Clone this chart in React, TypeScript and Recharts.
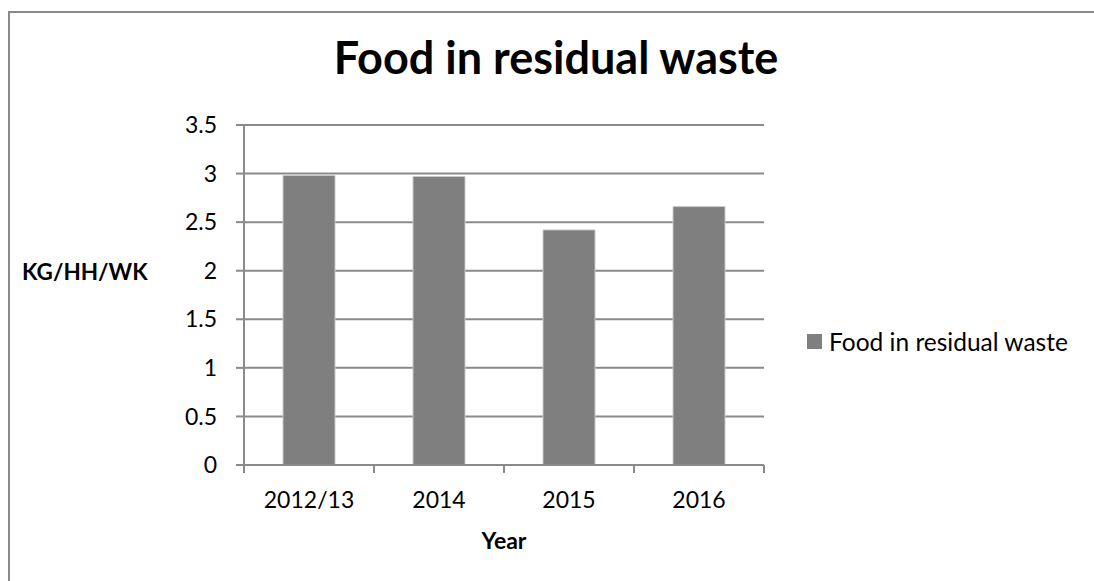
import React from 'react';
import {
  BarChart, Bar, XAxis, YAxis, CartesianGrid, Legend
} from 'recharts';

const years = ['2012/13', '2014', '2015', '2016'];
const foodKg = [2.98, 2.97, 2.42, 2.66];
const yTicks = [0, 0.5, 1, 1.5, 2, 2.5, 3, 3.5];
const seriesName = 'Food in residual waste';

const chartData = years.map((year, i) => ({ year, food: foodKg[i] }));

const FONT = 'Lato, "Open Sans", sans-serif';
const AXIS_GRAY = '#8a8a8a';
const BAR_GRAY = '#7f7f7f';

// Excel-style category axis: tick marks sit on the category boundaries
const YearTick = (props: any) => {
  const { x, y, payload, index } = props;
  const half = payload && payload.offset ? payload.offset : 65;
  const isLast = index === years.length - 1;
  return (
    <g>
      <line x1={x - half} y1={y} x2={x - half} y2={y + 8} stroke={AXIS_GRAY} strokeWidth={2} />
      {isLast && (
        <line x1={x + half} y1={y} x2={x + half} y2={y + 8} stroke={AXIS_GRAY} strokeWidth={2} />
      )}
      <text x={x} y={y + 43} textAnchor="middle" fill="#000" fontSize={23} fontFamily={FONT}>
        {payload.value}
      </text>
    </g>
  );
};

const LegendBox = () => (
  <div style={{ display: 'flex', alignItems: 'center', fontFamily: FONT, fontSize: 24.5, color: '#000' }}>
    <span style={{ width: 15, height: 15, background: BAR_GRAY, marginRight: 7, display: 'inline-block' }} />
    <span>{seriesName}</span>
  </div>
);

export default function App() {
  return (
    <div style={{ position: 'absolute', left: 0, top: 0, width: 1094, height: 581, overflow: 'hidden', background: '#fff' }}>
      {/* chart frame: only left/top edges fall inside the picture */}
      <div style={{ position: 'absolute', left: 8, top: 11, width: 1120, height: 620, border: `2px solid ${AXIS_GRAY}` }} />

      <div style={{ position: 'absolute', left: 0, top: 0 }}>
        <BarChart
          width={1094}
          height={581}
          data={chartData}
          margin={{ top: 125, right: 330, bottom: 0, left: 0 }}
          barCategoryGap="30%"
        >
          <CartesianGrid vertical={false} stroke={AXIS_GRAY} strokeWidth={2} />
          <XAxis
            dataKey="year"
            height={116}
            tickSize={0}
            tickMargin={0}
            tickLine={false}
            axisLine={{ stroke: AXIS_GRAY, strokeWidth: 2 }}
            tick={<YearTick />}
            interval={0}
          />
          <YAxis
            width={244}
            domain={[0, 3.5]}
            ticks={yTicks}
            interval={0}
            tickSize={8}
            tickMargin={19}
            axisLine={{ stroke: AXIS_GRAY, strokeWidth: 2 }}
            tickLine={{ stroke: AXIS_GRAY, strokeWidth: 2 }}
            tick={{ fill: '#000', fontSize: 23, fontFamily: FONT }}
          />
          <Legend
            layout="horizontal"
            align="center"
            verticalAlign="middle"
            content={<LegendBox />}
            wrapperStyle={{ left: 807, top: 327, width: 'auto', height: 'auto' }}
          />
          <Bar
            dataKey="food"
            name={seriesName}
            fill={BAR_GRAY}
            stroke="#c9c9c9"
            strokeWidth={1}
            isAnimationActive={false}
          />
        </BarChart>
      </div>

      <div style={{ position: 'absolute', left: 256, width: 600, top: 30, textAlign: 'center', fontFamily: FONT, fontWeight: 700, fontSize: 45, lineHeight: '54px', color: '#000' }}>
        Food in residual waste
      </div>
      <div style={{ position: 'absolute', left: 22, top: 257, fontFamily: FONT, fontWeight: 700, fontSize: 22.5, lineHeight: '30px', color: '#000' }}>
        KG/HH/WK
      </div>
      <div style={{ position: 'absolute', left: 404, width: 200, top: 525, textAlign: 'center', fontFamily: FONT, fontWeight: 700, fontSize: 23, lineHeight: '30px', color: '#000' }}>
        Year
      </div>
    </div>
  );
}
